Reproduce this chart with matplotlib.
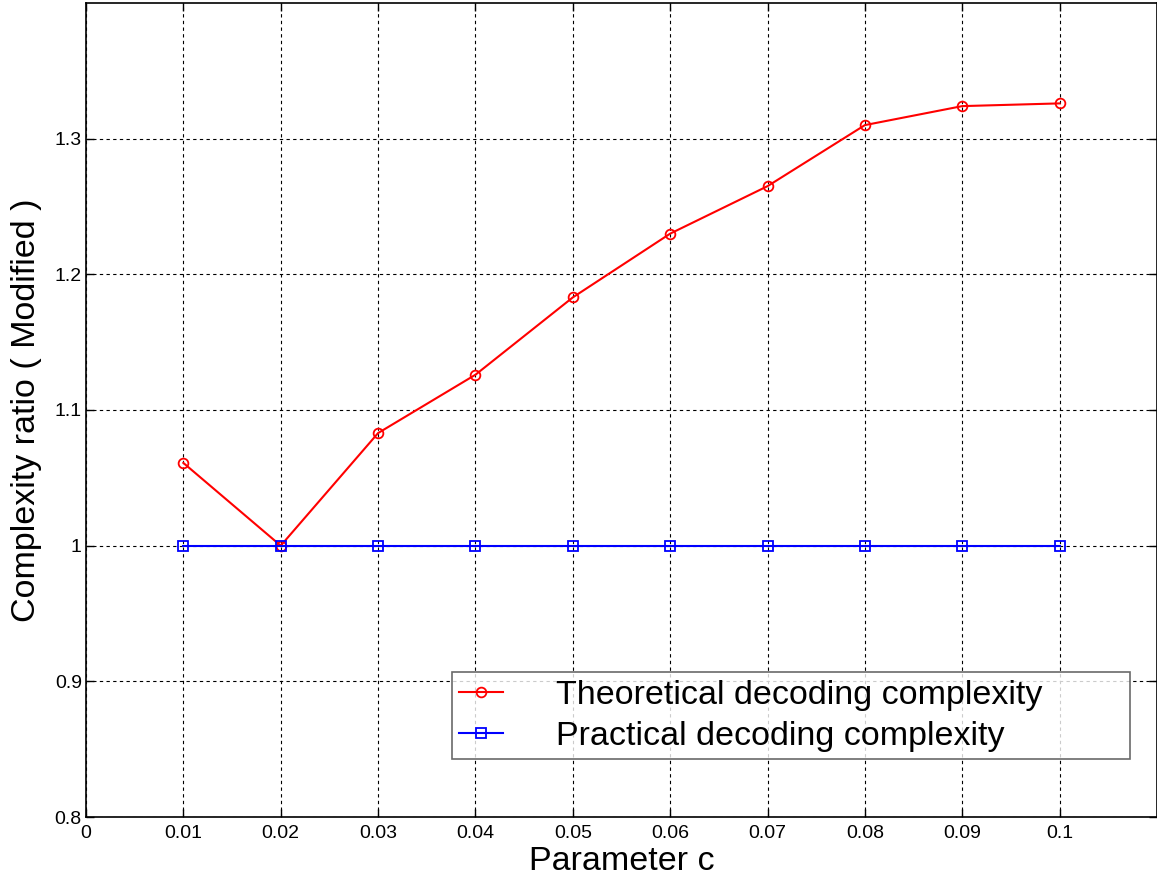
import matplotlib.pyplot as plt

# data
param_c = [0.01, 0.02, 0.03, 0.04, 0.05, 0.06, 0.07, 0.08, 0.09, 0.1]
theoretical = [1.061, 1.0, 1.083, 1.126, 1.183, 1.230, 1.265, 1.310, 1.324, 1.326]
practical = [1.0, 1.0, 1.0, 1.0, 1.0, 1.0, 1.0, 1.0, 1.0, 1.0]

x_ticks = [0, 0.01, 0.02, 0.03, 0.04, 0.05, 0.06, 0.07, 0.08, 0.09, 0.1]
x_tick_labels = ['0', '0.01', '0.02', '0.03', '0.04', '0.05', '0.06', '0.07', '0.08', '0.09', '0.1']
y_ticks = [0.8, 0.9, 1.0, 1.1, 1.2, 1.3]
y_tick_labels = ['0.8', '0.9', '1', '1.1', '1.2', '1.3']

plt.rcParams['font.family'] = ['Liberation Sans', 'DejaVu Sans']

fig = plt.figure(figsize=(11.57, 8.81), dpi=100)
ax = fig.add_axes([86 / 1157, 64 / 881, 1071 / 1157, 814 / 881])

ax.plot(param_c, theoretical, '-o', color='red', linewidth=1.5,
        markersize=7, markerfacecolor='none', markeredgewidth=1.3,
        label='Theoretical decoding complexity')
ax.plot(param_c, practical, '-s', color='blue', linewidth=1.5,
        markersize=6.5, markerfacecolor='none', markeredgewidth=1.3,
        label='Practical decoding complexity')

ax.set_xlim(0, 0.11)
ax.set_ylim(0.8, 1.4)
ax.set_xticks(x_ticks)
ax.set_xticklabels(x_tick_labels, fontsize=14)
ax.set_yticks(y_ticks)
ax.set_yticklabels(y_tick_labels, fontsize=14)
ax.tick_params(direction='in', top=True, right=True, length=6, width=1)
ax.tick_params(axis='x', pad=6)
ax.tick_params(axis='y', pad=3)

# MATLAB-like dotted black grid
ax.grid(True, color='black', linestyle=(0, (3, 3)), linewidth=0.8)
for s in ax.spines.values():
    s.set_linewidth(1.2)

ax.set_xlabel('Parameter c', fontsize=24.5, labelpad=3)
ax.set_ylabel('Complexity ratio ( Modified )', fontsize=24.5, labelpad=9)

leg = ax.legend(loc='lower left', bbox_to_anchor=(0.3417, 0.0713, 0.633, 0.1057),
                mode='expand', fontsize=24.5,
                frameon=True, fancybox=False, edgecolor='#444444',
                handlelength=1.3, borderpad=0.21, labelspacing=0.3,
                handletextpad=1.55, borderaxespad=0)
leg.get_frame().set_linewidth(1.2)

fig.savefig('out.png', dpi=100)
